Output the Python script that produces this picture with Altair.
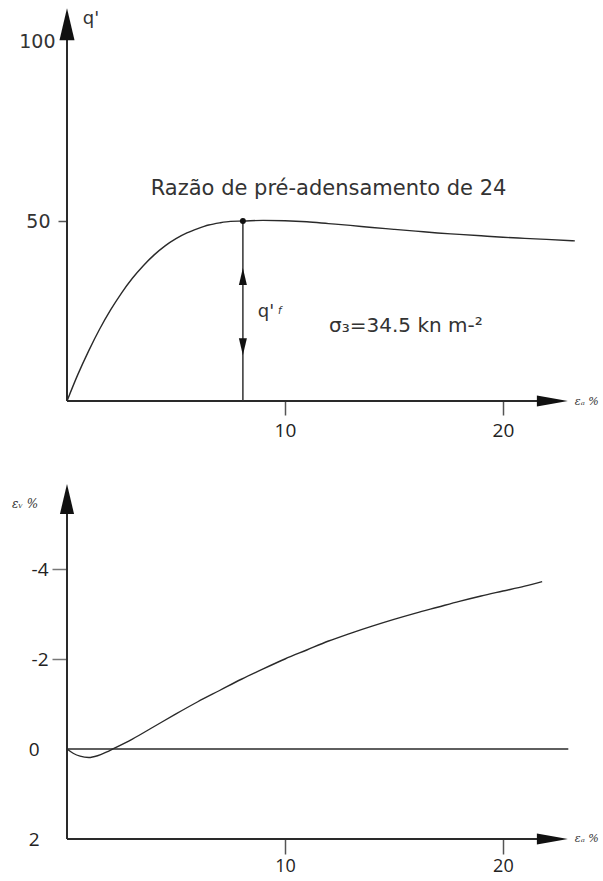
import altair as alt
import pandas as pd

# ---------------- data ----------------
# top panel: q' versus axial strain
ea_top = [0, 0.5, 1, 1.5, 2, 2.5, 3, 3.5, 4, 4.5, 5, 5.5, 6, 6.5, 7, 7.5, 8.07,
          9, 10, 11, 12, 13, 14, 15, 16, 17, 18, 19, 20, 21, 22, 23.3]
q_top = [0, 7.4, 14.0, 20.0, 25.3, 30.0, 34.1, 37.6, 40.6, 43.1, 45.1, 46.7, 47.9, 48.9, 49.5, 49.9, 50,
         50.2, 50.1, 49.8, 49.3, 48.8, 48.2, 47.7, 47.2, 46.7, 46.3, 45.9, 45.5, 45.2, 44.9, 44.5]
peak_ea = 8.07
peak_q = 50

# bottom panel: volumetric strain versus axial strain
ea_bot = [0, 0.3, 0.6, 1.0, 1.4, 1.8, 2.1, 3, 4, 5, 6, 7, 8, 9, 10, 11, 12, 13, 14,
          15, 16, 17, 18, 19, 20, 21, 21.8]
ev_bot = [0, 0.1, 0.16, 0.19, 0.15, 0.07, 0, -0.22, -0.5, -0.78, -1.05, -1.3, -1.55, -1.78,
          -2.0, -2.2, -2.4, -2.57, -2.73, -2.88, -3.02, -3.15, -3.28, -3.4, -3.51, -3.62, -3.72]

x_ticks = [10, 20]
q_ticks = [50, 100]
ev_ticks = [-4, -2, 0, 2]

x_domain = [0, 24.5]
q_domain = [0, 109.2]
ev_domain = [-5.889, 2]

# axis-arrow geometry (data units)
x_arrow_ea = 22.27
q_arrow = 104.7
ev_arrow = -5.556
zero_line_end = 23.0

title_top = "Razão de pré-adensamento de 24"
sigma_text = "σ₃=34.5 kn m-²"

W = 534
H_TOP = 393
H_BOT = 355
INK = "#2a2a2a"

UP = "M0,-1L0.47,1L-0.47,1Z"
DOWN = "M0,1L0.47,-1L-0.47,-1Z"
RIGHT = "M1,0L-1,-0.355L-1,0.355Z"

# ---------------- scales & axes ----------------
xscale = alt.Scale(domain=x_domain, nice=False, zero=False)
qscale = alt.Scale(domain=q_domain, nice=False, zero=False)
evscale = alt.Scale(domain=ev_domain, nice=False, zero=False, reverse=True)

xaxis_top = alt.Axis(values=x_ticks, domain=False, grid=False, tickSize=14, tickWidth=1.5,
                     tickColor="#555", labelPadding=6, labelFont="Open Sans", labelFontSize=19,
                     labelColor="#222", title=None, minExtent=40, maxExtent=40)
xaxis_bot = alt.Axis(values=x_ticks, domain=False, grid=False, tickSize=15, tickWidth=1.5,
                     tickColor="#555", labelPadding=3, labelFont="Open Sans", labelFontSize=18,
                     labelColor="#222", title=None, minExtent=40, maxExtent=40)
qaxis = alt.Axis(values=q_ticks, domain=False, grid=False, tickSize=9, tickWidth=1.5,
                 tickColor="#555",
                 tickOpacity={"condition": {"test": "datum.value == 50", "value": 1}, "value": 0},
                 labelPadding={"condition": {"test": "datum.value == 50", "value": 8}, "value": 3},
                 labelFont="DejaVu Sans", labelFontSize=19, labelColor="#333", title=None)
evaxis = alt.Axis(values=ev_ticks, domain=False, grid=False, tickSize=15, tickWidth=1.5,
                  tickColor="#777",
                  tickOpacity={"condition": {"test": "datum.value < 0", "value": 1}, "value": 0},
                  labelPadding={"condition": {"test": "datum.value < 0", "value": 4}, "value": 13},
                  labelExpr="datum.value < 0 ? '-' + abs(datum.value) : datum.label",
                  labelFont="Open Sans", labelFontSize=19, labelColor="#222", title=None)


def enc_top(x="x", y="y", x2=None, y2=None):
    e = dict(x=alt.X(f"{x}:Q", scale=xscale, axis=xaxis_top),
             y=alt.Y(f"{y}:Q", scale=qscale, axis=qaxis))
    if x2:
        e["x2"] = alt.X2(f"{x2}:Q")
    if y2:
        e["y2"] = alt.Y2(f"{y2}:Q")
    return e


def enc_bot(x="x", y="y", x2=None, y2=None):
    e = dict(x=alt.X(f"{x}:Q", scale=xscale, axis=xaxis_bot),
             y=alt.Y(f"{y}:Q", scale=evscale, axis=evaxis))
    if x2:
        e["x2"] = alt.X2(f"{x2}:Q")
    if y2:
        e["y2"] = alt.Y2(f"{y2}:Q")
    return e


# ---------------- top panel ----------------
top_curve = alt.Chart(pd.DataFrame({"x": ea_top, "y": q_top})).mark_line(
    color=INK, strokeWidth=1.4, interpolate="monotone").encode(**enc_top())

top_axes = alt.Chart(pd.DataFrame({
    "x": [0, 0], "y": [0, 0], "x2": [0, x_arrow_ea], "y2": [q_arrow, 0]
})).mark_rule(color=INK, strokeWidth=2).encode(**enc_top(x2="x2", y2="y2"))

top_vline = alt.Chart(pd.DataFrame({"x": [peak_ea], "y": [0], "y2": [peak_q]})).mark_rule(
    color="#333", strokeWidth=1.5).encode(**enc_top(y2="y2"))

top_peak = alt.Chart(pd.DataFrame({"x": [peak_ea], "y": [peak_q]})).mark_point(
    filled=True, color="#111", size=35, opacity=1, shape="circle").encode(**enc_top())

top_arrow_up = alt.Chart(pd.DataFrame({"x": [0, peak_ea], "y": [q_arrow, 34.6], "s": [1024, 289]})).mark_point(
    filled=True, color="#111", opacity=1, shape=UP).encode(
    size=alt.Size("s:Q", scale=None, legend=None), **enc_top())
top_arrow_down = alt.Chart(pd.DataFrame({"x": [peak_ea], "y": [15.1]})).mark_point(
    filled=True, color="#111", opacity=1, shape=DOWN, size=289).encode(**enc_top())
top_arrow_right = alt.Chart(pd.DataFrame({"x": [x_arrow_ea], "y": [0]})).mark_point(
    filled=True, color="#111", opacity=1, shape=RIGHT, size=961).encode(**enc_top())

top_texts = alt.Chart(pd.DataFrame({
    "x": [12.0, 15.55], "y": [58.9, 20.8], "t": [title_top, sigma_text], "fs": [21, 20]
})).mark_text(font="DejaVu Sans", color="#333", align="center", baseline="middle").encode(
    text="t:N", size=alt.Size("fs:Q", scale=None, legend=None), **enc_top())

top_q = alt.Chart(pd.DataFrame({"x": [1.1, 9.13], "y": [106.1, 24.7], "t": ["q'", "q'"]})).mark_text(
    font="DejaVu Sans", fontSize=18, color="#333", align="center", baseline="middle").encode(
    text="t:N", **enc_top())
top_qf = alt.Chart(pd.DataFrame({"x": [9.68], "y": [24.9], "t": ["f"]})).mark_text(
    font="DejaVu Sans", fontSize=10, fontStyle="italic", color="#333", align="left",
    baseline="middle").encode(text="t:N", **enc_top())

top_ea = alt.Chart(pd.DataFrame({"x": [23.3], "y": [-0.3], "t": ["εₐ %"]})).mark_text(
    font="DejaVu Serif", fontSize=11, fontStyle="italic", color="#333", align="left",
    baseline="middle").encode(text="t:N", **enc_top())

top = alt.layer(top_axes, top_curve, top_vline, top_peak, top_arrow_up, top_arrow_down,
                top_arrow_right, top_texts, top_q, top_qf, top_ea).properties(width=W, height=H_TOP)

# ---------------- bottom panel ----------------
bot_curve = alt.Chart(pd.DataFrame({"x": ea_bot, "y": ev_bot})).mark_line(
    color=INK, strokeWidth=1.4, interpolate="monotone").encode(**enc_bot())

bot_axes = alt.Chart(pd.DataFrame({
    "x": [0, 0], "y": [2, 2], "x2": [0, x_arrow_ea], "y2": [ev_arrow, 2]
})).mark_rule(color=INK, strokeWidth=2).encode(**enc_bot(x2="x2", y2="y2"))

bot_zero = alt.Chart(pd.DataFrame({"x": [0], "x2": [zero_line_end], "y": [0]})).mark_rule(
    color=INK, strokeWidth=1.5).encode(**enc_bot(x2="x2"))

bot_arrow_up = alt.Chart(pd.DataFrame({"x": [0], "y": [ev_arrow]})).mark_point(
    filled=True, color="#111", opacity=1, shape=UP, size=900).encode(**enc_bot())
bot_arrow_right = alt.Chart(pd.DataFrame({"x": [x_arrow_ea], "y": [2]})).mark_point(
    filled=True, color="#111", opacity=1, shape=RIGHT, size=961).encode(**enc_bot())

bot_labels = alt.Chart(pd.DataFrame({"x": [-2.52, 23.3], "y": [-5.44, 2.0], "t": ["εᵥ %", "εₐ %"],
                                     "fs": [12, 11]})).mark_text(
    font="DejaVu Serif", fontStyle="italic", color="#333", align="left",
    baseline="middle").encode(text="t:N", size=alt.Size("fs:Q", scale=None, legend=None), **enc_bot())

bot = alt.layer(bot_axes, bot_zero, bot_curve, bot_arrow_up, bot_arrow_right, bot_labels).properties(
    width=W, height=H_BOT)

chart = alt.concat(top, bot, columns=1, spacing=42).properties(
    padding={"left": 12, "top": 8, "right": 0, "bottom": 0},
    background="white",
).configure_view(stroke=None)

chart.save("out.html", embed_options={"renderer": "svg", "actions": False})
